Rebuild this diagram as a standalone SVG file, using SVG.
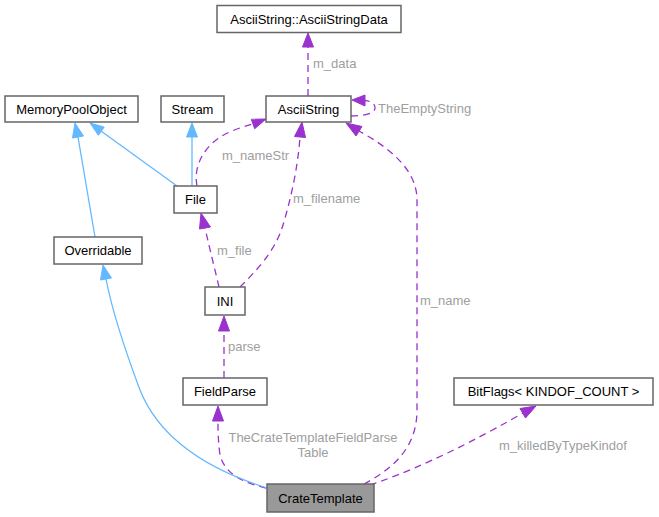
<svg xmlns="http://www.w3.org/2000/svg" width="659" height="517" viewBox="0 0 659 517">
<style>
.n rect{fill:#fff;stroke:#666;stroke-width:1.5}
.n text{font-family:"Liberation Sans",Arial,sans-serif;font-size:13px;fill:#000;text-anchor:middle}
.p{fill:none;stroke:#9a32cd;stroke-width:1.3;stroke-dasharray:7,5}
.pa{fill:#9a32cd;stroke:#9a32cd}
.b{fill:none;stroke:#63b8ff;stroke-width:1.3}
.ba{fill:#63b8ff;stroke:#63b8ff}
.l{font-family:"Liberation Sans",Arial,sans-serif;font-size:13px;fill:#9e9e9e}
</style>
<rect width="659" height="517" fill="#fff"/>
<g id="edges">
<path class="p" d="M308,96 L308,47"/>
<polygon class="pa" points="308,33 302.5,47 313.5,47"/>
<text class="l" x="313" y="68">m_data</text>
<path class="p" d="M351,116 C362,116 375,114 375,108 C375,103 370,101 365,100.5"/>
<polygon class="pa" points="352,100 365,95 365,106"/>
<text class="l" x="378" y="113">TheEmptyString</text>
<path class="b" d="M177,186 L101,131"/>
<polygon class="ba" points="90,123 98.4,135.3 104.2,127.1"/>
<path class="b" d="M95,237 L78,137"/>
<polygon class="ba" points="75,123 72.5,138 83.5,136"/>
<path class="b" d="M192,186 L192,137"/>
<polygon class="ba" points="192,123 186.5,137 197.5,137"/>
<path class="p" d="M197,186 C193,165 205,146 222,136 C232,130 243,127 252,124"/>
<polygon class="pa" points="266,119 251.3,119.3 254.7,128.7"/>
<text class="l" x="222" y="160">m_nameStr</text>
<path class="p" d="M240,287 C255,272 275,252 283,225 C292,195 298,165 300,137"/>
<polygon class="pa" points="302,122 294.5,136.5 305.5,137.5"/>
<text class="l" x="293" y="203">m_filename</text>
<path class="p" d="M219,287 C215,270 210,250 205,228"/>
<polygon class="pa" points="201,213 199.5,229 210.5,227"/>
<text class="l" x="217" y="255">m_file</text>
<path class="p" d="M224,378 L224,331"/>
<polygon class="pa" points="224,316 218.5,331 229.5,331"/>
<text class="l" x="228" y="351">parse</text>
<path class="p" d="M266,488 C245,483 225,475 220,455 C218,440 218,430 218,421"/>
<polygon class="pa" points="218,406 212.5,421 223.5,421"/>
<text class="l" x="313" y="442" text-anchor="middle">TheCrateTemplateFieldParse</text>
<text class="l" x="313" y="457" text-anchor="middle">Table</text>
<path class="b" d="M267,488 C210,470 160,440 140,390 C125,350 112,310 106,279"/>
<polygon class="ba" points="103,265 100.5,280 111.5,278"/>
<path class="p" d="M364,484 C390,470 417,450 417,410 L417,200 C417,170 390,148 359,131"/>
<polygon class="pa" points="346,123 356,136 362,126.5"/>
<text class="l" x="420" y="305">m_name</text>
<path class="p" d="M370,485 C400,475 450,455 523,413"/>
<polygon class="pa" points="536,406 520,408.5 525.5,418"/>
<text class="l" x="499" y="450">m_killedByTypeKindof</text>
</g>
<g id="AsciiStringData" class="n"><rect x="217" y="5.5" width="184" height="27"/><text x="309" y="23.5">AsciiString::AsciiStringData</text></g>
<g id="MemoryPoolObject" class="n"><rect x="5" y="96" width="133" height="26"/><text x="71.5" y="113.5">MemoryPoolObject</text></g>
<g id="Stream" class="n"><rect x="161" y="96" width="63" height="26"/><text x="192.5" y="113.5">Stream</text></g>
<g id="AsciiString" class="n"><rect x="266" y="96" width="85" height="26"/><text x="308.5" y="113.5">AsciiString</text></g>
<g id="File" class="n"><rect x="174" y="186" width="43" height="27"/><text x="195.5" y="204">File</text></g>
<g id="Overridable" class="n"><rect x="54" y="237" width="88" height="27"/><text x="98" y="255">Overridable</text></g>
<g id="INI" class="n"><rect x="205" y="287" width="40" height="28"/><text x="225" y="305.5">INI</text></g>
<g id="FieldParse" class="n"><rect x="183" y="378" width="84" height="27"/><text x="225" y="396">FieldParse</text></g>
<g id="BitFlags" class="n"><rect x="454" y="378" width="199" height="27"/><text x="553.5" y="396">BitFlags&lt; KINDOF_COUNT &gt;</text></g>
<g id="CrateTemplate" class="n"><rect x="267" y="484" width="107" height="28" style="fill:#999"/><text x="320.5" y="502.5">CrateTemplate</text></g>
</svg>
